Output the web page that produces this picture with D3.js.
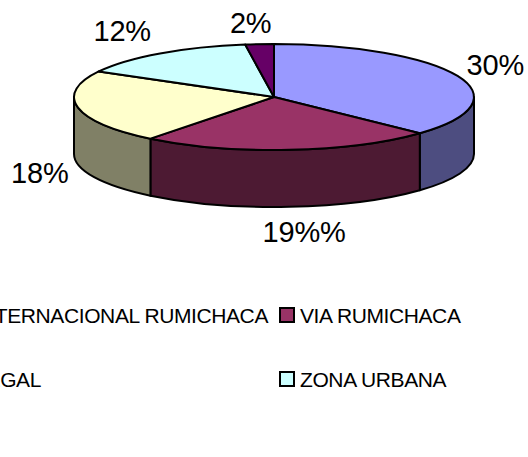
<!DOCTYPE html>
<html>
<head>
<meta charset="utf-8">
<script src="https://cdn.jsdelivr.net/npm/d3@7"></script>
<style>
  html, body { margin: 0; padding: 0; background: #fff; overflow: hidden; }
  text { font-family: "Liberation Sans", Arial, sans-serif; fill: #000; }
</style>
</head>
<body>
<div id="chart"></div>
<script>
// slice sizes as drawn, the printed labels do not add up to 100
var sliceValues = [37, 23.6, 22.4, 14.7, 2.3];
var sliceLabels = ["30%", "19%%", "18%", "12%", "2%"];
var topColors = ["#9999FF", "#993366", "#FFFFCC", "#CCFFFF", "#660066"];
var sideColors = ["#4D4D80", "#4D1A33", "#808066", "#668080", "#330033"];

var legendNames = ["INTERNACIONAL RUMICHACA", "VIA RUMICHACA", "ILEGAL", "ZONA URBANA"];
var legendColors = ["#9999FF", "#993366", "#FFFFCC", "#CCFFFF"];

var width = 528,
    height = 457,
    cx = 274,
    cy = 97,
    rx = 200,
    ry = 53,
    depth = 57;

// hand nudges for the percent labels, same order as sliceLabels
var labelDx = [1, 12, 1, -15, -6],
    labelDy = [-5, 5, 0, -10, -6];

var svg = d3.select("#chart").append("svg")
    .attr("width", width)
    .attr("height", height)
    .style("display", "block");

var slices = d3.pie().sort(null).value(function(d) { return d; })(sliceValues);

function px(a) { return cx + rx * Math.sin(a); }
function py(a) { return cy - ry * Math.cos(a); }

// the wall of a slice, only the part between 3 o'clock and 9 o'clock can be seen
function wall(d) {
  var a0 = Math.max(d.startAngle, Math.PI / 2),
      a1 = Math.min(d.endAngle, Math.PI * 1.5);
  if (a1 <= a0) return null;
  return "M" + px(a0) + "," + py(a0) +
    "A" + rx + "," + ry + " 0 0 1 " + px(a1) + "," + py(a1) +
    "L" + px(a1) + "," + (py(a1) + depth) +
    "A" + rx + "," + ry + " 0 0 0 " + px(a0) + "," + (py(a0) + depth) + "Z";
}

svg.append("g").selectAll("path")
    .data(slices)
    .enter()
    .append("path")
      .attr("d", wall)
      .attr("fill", function(d, i) { return sideColors[i]; })
      .attr("stroke", "#000")
      .attr("stroke-width", 2)
      .attr("stroke-linejoin", "round");

var arc = d3.arc().innerRadius(0).outerRadius(rx);

svg.append("g")
    .attr("transform", "translate(" + cx + "," + cy + ") scale(1," + (ry / rx) + ")")
  .selectAll("path")
    .data(slices)
    .enter()
    .append("path")
      .attr("d", arc)
      .attr("fill", function(d, i) { return topColors[i]; })
      .attr("stroke", "#000")
      .attr("stroke-width", 2)
      .attr("stroke-linejoin", "round")
      .attr("vector-effect", "non-scaling-stroke");

// percent labels sit outside the ellipse along the middle of each slice
svg.append("g").selectAll("text")
    .data(slices)
    .enter()
    .append("text")
      .attr("text-anchor", "middle")
      .attr("dominant-baseline", "central")
      .style("font-size", "29px")
      .style("letter-spacing", "-0.2px")
      .attr("x", function(d, i) {
        return cx + 1.2 * rx * Math.sin((d.startAngle + d.endAngle) / 2) + labelDx[i];
      })
      .attr("y", function(d, i) {
        var c = Math.cos((d.startAngle + d.endAngle) / 2);
        return cy - 1.28 * ry * c + (c < 0 ? depth + 5 : 0) + labelDy[i];
      })
      .text(function(d, i) { return sliceLabels[i]; });

// legend, two columns, the left one runs off the page as in the original
var rowY = d3.scaleOrdinal().domain([0, 1]).range([308, 372]);

var legend = svg.append("g").selectAll("g")
    .data(legendNames)
    .enter()
    .append("g");

// swatches of the left column fall outside the page, so only the right ones are drawn
legend.filter(function(d, i) { return i % 2 == 1; }).append("rect")
    .attr("x", 280)
    .attr("y", function(d) { return rowY(Math.floor(legendNames.indexOf(d) / 2)); })
    .attr("width", 14)
    .attr("height", 14)
    .attr("fill", function(d) { return legendColors[legendNames.indexOf(d)]; })
    .attr("stroke", "#000")
    .attr("stroke-width", 2);

legend.append("text")
    .attr("text-anchor", function(d, i) { return i % 2 ? "start" : "end"; })
    .attr("x", function(d, i) { return i % 2 ? 300 : (i == 0 ? 268 : 41); })
    .attr("y", function(d, i) { return rowY(Math.floor(i / 2)) + 15; })
    .style("font-size", "21px")
    .style("letter-spacing", "-0.4px")
    .text(function(d) { return d; });
</script>
</body>
</html>
